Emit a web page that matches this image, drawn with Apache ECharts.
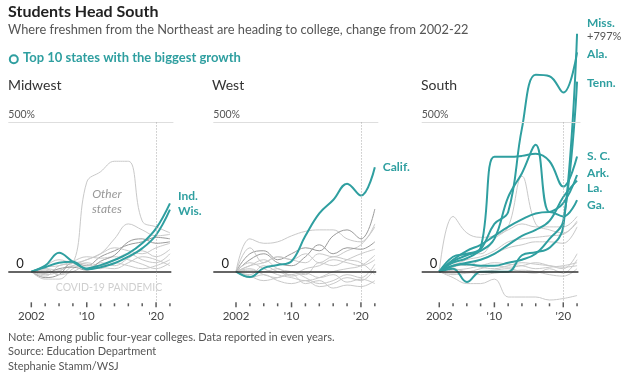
<!DOCTYPE html>
<html>
<head>
<meta charset="utf-8">
<script src="https://cdn.jsdelivr.net/npm/echarts@6/dist/echarts.min.js"></script>
<style>
html,body{margin:0;padding:0;background:#fff;}
#chart{width:624px;height:381px;}
</style>
</head>
<body>
<div id="chart"></div>
<script>
// ---------- DATA ----------
const years = [2002, 2004, 2006, 2008, 2010, 2012, 2014, 2016, 2018, 2020, 2022];
const tickYears = [2002, 2004, 2006, 2008, 2010, 2012, 2014, 2016, 2018, 2020, 2022];
const labelYears = [2002, 2010, 2020];
const tickLabels = ['2002', "'10", "'20"];

// Midwest (% change from 2002)
const ind = [0, 20, 63, 33, 11, 22, 39, 61, 95, 145, 229];
const wis = [0, 15, 30, 33, 8, 15, 28, 50, 78, 123, 208];
const midwestOthers = [
  [0, -15, 20, 30, 300, 335, 370, 370, 170, 150, 130],
  [0, 10, -10, 20, 40, 60, 110, 160, 140, 120, 125],
  [0, -20, -10, 30, 20, 50, 70, 90, 100, 115, 110],
  [0, 20, 40, 30, 40, 60, 80, 70, 60, 80, 95],
  [0, -25, -25, 10, 30, 20, 40, 60, 40, 30, 60],
  [0, 10, 5, 20, 10, 30, 20, 45, 70, 50, 75],
  [0, -10, 0, 30, 25, 10, 30, 20, 10, 20, 40],
  [0, 15, 20, 35, 50, 45, 50, 40, 25, 10, 30],
  [0, -5, 10, 15, 5, 35, 55, 100, 110, 95, 100],
  [0, 5, -10, 0, 20, 15, 10, 30, 50, 40, 20]
];

// West
const calif = [0, -18, 12, 22, 35, 120, 195, 240, 295, 255, 350];
const westOthers = [
  [0, 110, 95, 100, 120, 135, 140, 140, 110, 100, 160],
  [0, 60, 70, 40, 60, 80, 70, 120, 140, 110, 210],
  [0, 80, 30, 50, 40, 30, 60, 50, 70, 90, 150],
  [0, 40, 60, 30, 20, 50, 90, 60, 80, 75, 100],
  [0, 20, 40, 10, 0, -10, 30, 20, 40, 60, 75],
  [0, 30, 10, -10, -20, -30, -20, 0, 10, 20, 55],
  [0, -10, 20, 0, -10, 10, 20, 40, 30, 20, 40],
  [0, 10, -10, -20, 0, -20, -40, -30, -10, -20, 25],
  [0, -20, -10, -30, -40, -30, -50, -40, -20, -30, 10],
  [0, 20, 30, 50, 40, 60, 30, 50, 40, 30, -10],
  [0, -15, -30, -20, -10, -40, -30, -55, -45, -50, -30],
  [0, 5, 0, 10, -15, -5, -20, -10, -35, -25, -40]
];

// South
const miss = [0, 10, -35, 0, 0, 0, 55, 65, 80, 150, 797];
const ala = [0, 30, 45, 75, 160, 200, 480, 660, 655, 600, 735];
const tenn = [0, 20, 25, 20, 20, 30, 40, 60, 110, 170, 637];
const sc = [0, 50, 60, 80, 385, 385, 388, 395, 370, 285, 386];
const ark = [0, 35, 55, 70, 110, 250, 330, 425, 200, 230, 324];
const la = [0, 20, 30, 40, 60, 90, 120, 140, 170, 250, 305];
const ga = [0, 40, 70, 90, 120, 150, 175, 195, 200, 185, 240];
const southOthers = [
  [0, 185, 130, 115, 120, 140, 160, 150, 150, 150, 185],
  [0, 40, 60, 60, 110, 150, 320, 160, 140, 130, 165],
  [0, 20, 40, 50, 70, 100, 110, 115, 120, 125, 170],
  [0, 30, 20, 40, 60, 80, 90, 100, 100, 95, 150],
  [0, -20, -40, -40, -25, -85, -85, -85, -95, -90, -80],
  [0, 10, 0, 10, 20, 15, 20, 30, 20, 10, 60],
  [0, -10, -5, 0, 5, 10, 0, -5, 10, -5, 40],
  [0, 5, 10, 20, 30, 25, 20, 10, 15, 20, 30],
  [0, -5, 0, -10, -5, 0, 5, 0, -10, -15, 10],
  [0, 15, 25, 15, 10, 20, 30, 25, 20, 15, 20]
];

// ---------- LAYOUT / STYLE ----------
const TEAL = '#2f9fa0';
const FONT = 'Lato, "Open Sans", sans-serif';
const Y_MIN = -100;
const panels = [
  { name: 'Midwest', left: 8.3, width: 165.1, xmin: 1998.68, xmax: 2022.5,
    highlights: [
      { name: 'Ind.', data: ind, offset: [0, -7] },
      { name: 'Wis.', data: wis, offset: [0, 2] }
    ],
    others: midwestOthers, dark: [2, 8] },
  { name: 'West', left: 213.3, width: 165, xmin: 1998.73, xmax: 2022.5,
    highlights: [ { name: 'Calif.', data: calif, offset: [0, 0] } ],
    others: westOthers, dark: [1, 3] },
  { name: 'South', left: 421.7, width: 158.8, xmin: 1999.45, xmax: 2022.5,
    highlights: [
      { name: 'Miss.', data: miss, offset: [2, -4], rich: true },
      { name: 'Ala.', data: ala, offset: [2, 2] },
      { name: 'Tenn.', data: tenn, offset: [2, 2] },
      { name: 'S. C.', data: sc, offset: [2, 0] },
      { name: 'Ark.', data: ark, offset: [2, -2] },
      { name: 'La.', data: la, offset: [2, 7] },
      { name: 'Ga.', data: ga, offset: [2, 5] }
    ],
    others: southOthers, dark: [] }
];

const grids = [], xAxes = [], yAxes = [], series = [];
panels.forEach((p, i) => {
  grids.push({ left: p.left, width: p.width, top: 3.1, height: 298.4, outerBoundsMode: 'none' });
  xAxes.push({
    type: 'value', gridIndex: i, min: p.xmin, max: p.xmax, position: 'bottom',
    axisLine: { show: false }, splitLine: { show: false }, axisTick: { show: false },
    axisLabel: { show: true, customValues: labelYears, margin: 9, fontSize: 11.5, color: '#444', fontFamily: FONT,
      formatter: v => tickLabels[labelYears.indexOf(Math.round(v))] }
  });
  yAxes.push({ type: 'value', gridIndex: i, min: Y_MIN, max: 900, show: false });

  const xa = i, ya = i;
  const anno = [
    { coord: [p.xmin, 525], label: { formatter: '500%', align: 'left', fontSize: 10.5, color: '#555' } },
    { coord: [p.xmin + 2.25, 26], label: { formatter: '0', align: 'right', fontSize: 13, color: '#222' } }
  ];
  if (p.name === 'Midwest') {
    anno.push({ coord: [2020.9, -54], label: { formatter: 'COVID-19 PANDEMIC', align: 'right', fontSize: 10.5, color: '#cfcfcf' } });
    anno.push({ coord: [2012.9, 234], label: { formatter: 'Other\nstates', align: 'center', fontSize: 12, lineHeight: 15, fontStyle: 'italic', color: '#999' } });
  }
  series.push({
    type: 'line', xAxisIndex: xa, yAxisIndex: ya, z: 1, silent: true,
    data: [[2002, 0]], showSymbol: false, lineStyle: { opacity: 0 },
    markLine: {
      silent: true, symbol: ['none', 'none'], label: { show: false }, animation: false,
      data: [
        [{ coord: [p.xmin, 500], lineStyle: { color: '#dedede', width: 1, type: 'solid' } }, { coord: [p.xmax, 500] }],
        [{ coord: [p.xmin, 0], lineStyle: { color: '#333', width: 1.5, type: 'solid' } }, { coord: [p.xmax - 0.3, 0] }],
        [{ coord: [2020, 500], lineStyle: { color: '#aaa', width: 1, type: [1, 2] } }, { coord: [2020, -97] }]
      ]
    },
    markPoint: {
      silent: true, animation: false, symbol: 'circle', symbolSize: 1,
      itemStyle: { color: 'rgba(0,0,0,0)' },
      label: { show: true, position: 'inside', fontFamily: FONT },
      data: anno
    }
  });
  // x-axis tick marks (small rectangles hanging below the axis baseline)
  series.push({
    type: 'scatter', xAxisIndex: xa, yAxisIndex: ya, z: 1, silent: true,
    data: tickYears.map(y => [y, Y_MIN]),
    symbol: 'rect', symbolSize: (v) => labelYears.includes(v[0]) ? [1.5, 5] : [1.5, 3],
    symbolOffset: [0, 3.3], itemStyle: { color: '#333' }
  });
  p.others.forEach((d, k) => {
    series.push({
      type: 'line', xAxisIndex: xa, yAxisIndex: ya, z: 2, silent: true,
      data: years.map((y, j) => [y, d[j]]), smooth: 0.4, showSymbol: false,
      lineStyle: { color: p.dark.includes(k) ? '#9a9a9a' : '#c9c9c9', width: 1 }
    });
  });
  p.highlights.forEach(h => {
    series.push({
      name: h.name, type: 'line', xAxisIndex: xa, yAxisIndex: ya, z: 3, silent: true,
      data: years.map((y, j) => [y, h.data[j]]), smooth: 0.4, showSymbol: false,
      lineStyle: { color: TEAL, width: 2 },
      endLabel: {
        show: true, offset: h.offset, color: TEAL, fontWeight: 'bold', fontSize: 12, fontFamily: FONT,
        formatter: h.rich ? '{a|' + h.name + '}\n{b|+797%}' : h.name,
        rich: h.rich ? {
          a: { color: TEAL, fontWeight: 'bold', fontSize: 12, fontFamily: FONT, lineHeight: 13 },
          b: { color: '#555', fontWeight: 'normal', fontSize: 11, fontFamily: FONT, lineHeight: 13 }
        } : undefined
      }
    });
  });
});

const graphic = [
  { type: 'text', left: 8, top: 4, style: { text: 'Students Head South', font: 'bold 16px ' + FONT, fill: '#222' } },
  { type: 'text', left: 8, top: 23, style: { text: 'Where freshmen from the Northeast are heading to college, change from 2002-22', font: '12.8px ' + FONT, fill: '#555' } },
  { type: 'circle', shape: { cx: 13.8, cy: 59.3, r: 4 }, style: { fill: 'none', stroke: TEAL, lineWidth: 2 } },
  { type: 'text', left: 23, top: 51, style: { text: 'Top 10 states with the biggest growth', font: 'bold 13px ' + FONT, fill: TEAL } },
  { type: 'text', left: 8, top: 78, style: { text: 'Midwest', font: '14px ' + FONT, fill: '#333' } },
  { type: 'text', left: 212, top: 78, style: { text: 'West', font: '14px ' + FONT, fill: '#333' } },
  { type: 'text', left: 421, top: 78, style: { text: 'South', font: '14px ' + FONT, fill: '#333' } },
  { type: 'text', left: 8, top: 332, style: { text: 'Note: Among public four-year colleges. Data reported in even years.', font: '11px ' + FONT, fill: '#555' } },
  { type: 'text', left: 8, top: 346, style: { text: 'Source: Education Department', font: '11px ' + FONT, fill: '#555' } },
  { type: 'text', left: 8, top: 361, style: { text: 'Stephanie Stamm/WSJ', font: '11px ' + FONT, fill: '#555' } }
];

const chart = echarts.init(document.getElementById('chart'), null, { renderer: 'canvas' });
chart.setOption({
  animation: false,
  backgroundColor: '#fff',
  grid: grids, xAxis: xAxes, yAxis: yAxes, series: series, graphic: graphic
});
</script>
</body>
</html>
